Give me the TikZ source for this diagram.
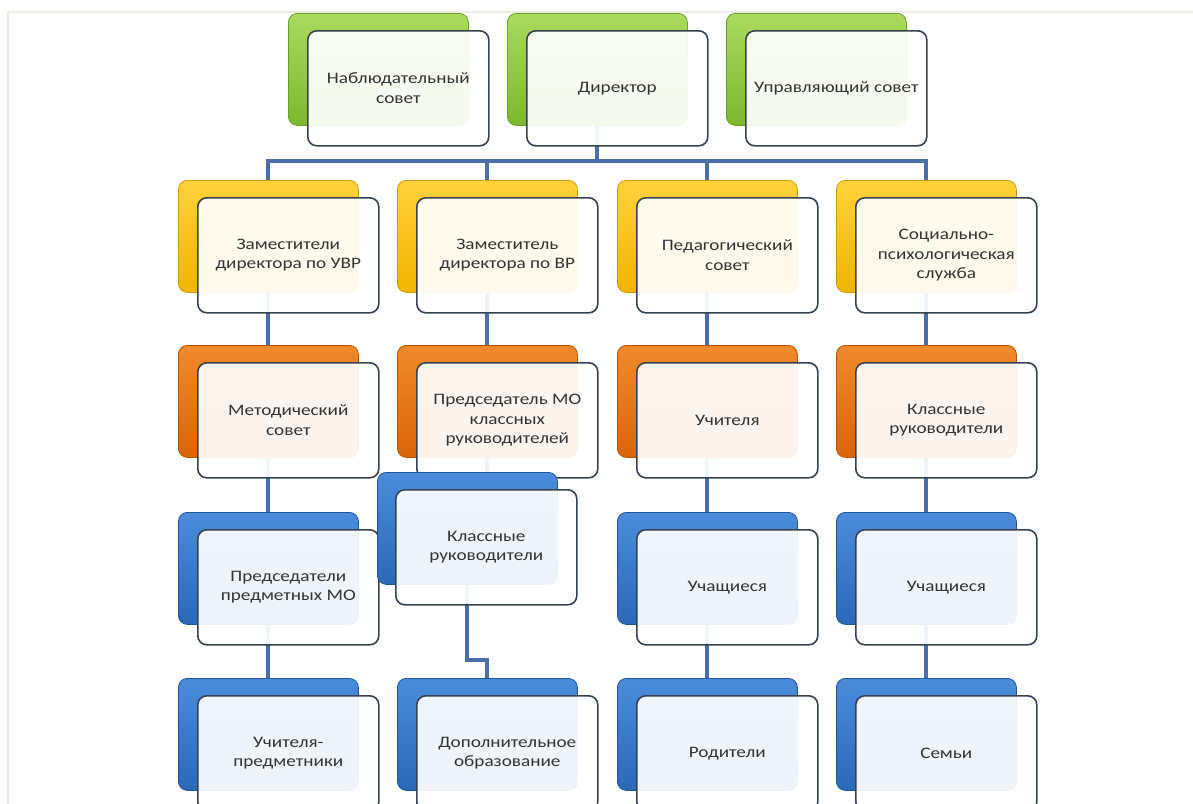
\documentclass[tikz,border=0pt]{standalone}
\usepackage{fontspec}
\setmainfont{Carlito}[FakeStretch=1.2]
\usetikzlibrary{calc}
\pgfdeclarelayer{bg}
\pgfsetlayers{bg,main}
\definecolor{gL}{HTML}{A9DA5E}\definecolor{gM}{HTML}{7DB82E}\definecolor{gD}{HTML}{6A9E25}
\definecolor{yL}{HTML}{FFD23A}\definecolor{yM}{HTML}{F2B400}\definecolor{yD}{HTML}{D09A00}
\definecolor{oL}{HTML}{F08A2C}\definecolor{oM}{HTML}{DA6508}\definecolor{oD}{HTML}{B85300}
\definecolor{bL}{HTML}{4A8CDB}\definecolor{bM}{HTML}{2A68B8}\definecolor{bD}{HTML}{1F559C}
\definecolor{frontline}{HTML}{364252}
\definecolor{txt}{HTML}{333333}
\definecolor{conn}{HTML}{4A6FA8}
\definecolor{framegray}{HTML}{ECECE4}
\begin{document}
\begin{tikzpicture}[x=1pt,y=1pt,
  backbox/.style={rounded corners=9pt, minimum width=180pt, minimum height=112pt,
    anchor=north west, inner sep=0pt, line width=0.8pt},
  gback/.style={backbox, draw=gD, top color=gL, bottom color=gM},
  yback/.style={backbox, draw=yD, top color=yL, bottom color=yM},
  oback/.style={backbox, draw=oD, top color=oL, bottom color=oM},
  bback/.style={backbox, draw=bD, top color=bL, bottom color=bM},
  frontbox/.style={rounded corners=9pt, minimum width=181pt, minimum height=115pt,
    anchor=north west, inner sep=0pt, draw=frontline, line width=1.6pt,
    fill=white, fill opacity=0.92, draw opacity=1, text opacity=1, text=txt,
    align=center, font=\fontsize{16}{19.5}\selectfont},
  connector/.style={draw=conn, line width=4pt}]
\useasboundingbox (0,0) rectangle (1193,-803);
\clip (0,0) rectangle (1193,-803);
\draw[framegray, line width=2pt] (8,-900) -- (8,-12) -- (1300,-12);

% row 1
\node[gback] (b11) at (288,-13) {};
\node[frontbox] (f11) at (307,-30) {Наблюдательный\\совет};
\node[gback] (b12) at (507,-13) {};
\node[frontbox] (f12) at (526,-30) {Директор};
\node[gback] (b13) at (726,-13) {};
\node[frontbox] (f13) at (745,-30) {Управляющий совет};
% row 2
\node[yback] (b21) at (178,-180) {};
\node[frontbox] (f21) at (197,-197) {Заместители\\директора по УВР};
\node[yback] (b22) at (397,-180) {};
\node[frontbox] (f22) at (416,-197) {Заместитель\\директора по ВР};
\node[yback] (b23) at (617,-180) {};
\node[frontbox] (f23) at (636,-197) {Педагогический\\совет};
\node[yback] (b24) at (836,-180) {};
\node[frontbox] (f24) at (855,-197) {Социально-\\психологическая\\служба};
% row 3
\node[oback] (b31) at (178,-345) {};
\node[frontbox] (f31) at (197,-362) {Методический\\совет};
\node[oback] (b32) at (397,-345) {};
\node[frontbox] (f32) at (416,-362) {Председатель МО\\классных\\руководителей};
\node[oback] (b33) at (617,-345) {};
\node[frontbox] (f33) at (636,-362) {Учителя};
\node[oback] (b34) at (836,-345) {};
\node[frontbox] (f34) at (855,-362) {Классные\\руководители};
% row 4
\node[bback] (b41) at (178,-512) {};
\node[frontbox] (f41) at (197,-529) {Председатели\\предметных МО};
\node[bback] (b42) at (377,-472) {};
\node[frontbox] (f42) at (395,-489) {Классные\\руководители};
\node[bback] (b43) at (617,-512) {};
\node[frontbox] (f43) at (636,-529) {Учащиеся};
\node[bback] (b44) at (836,-512) {};
\node[frontbox] (f44) at (855,-529) {Учащиеся};
% row 5
\node[bback] (b51) at (178,-678) {};
\node[frontbox] (f51) at (197,-695) {Учителя-\\предметники};
\node[bback] (b52) at (397,-678) {};
\node[frontbox] (f52) at (416,-695) {Дополнительное\\образование};
\node[bback] (b53) at (617,-678) {};
\node[frontbox] (f53) at (636,-695) {Родители};
\node[bback] (b54) at (836,-678) {};
\node[frontbox] (f54) at (855,-695) {Семьи};

\begin{pgfonlayer}{bg}
\coordinate (hub) at (b12.center |- 0,-161);
\coordinate (kink) at (b52.center |- 0,-660);
\draw[connector] (b12.center) -- (hub);
\draw[connector] (b21.center) |- (hub) -| (b24.center);
\draw[connector] (b22.center) -- (b22.center |- hub);
\draw[connector] (b23.center) -- (b23.center |- hub);
\draw[connector] (b21.center) -- (b31.center) -- (b41.center) -- (b51.center);
\draw[connector] (b23.center) -- (b33.center) -- (b43.center) -- (b53.center);
\draw[connector] (b24.center) -- (b34.center) -- (b44.center) -- (b54.center);
\draw[connector] (b22.center) -- (b32.center) -- (b32.center |- b42.center);
\draw[connector] (b42.center) |- (kink) -- (b52.center);
\end{pgfonlayer}
\end{tikzpicture}
\end{document}
